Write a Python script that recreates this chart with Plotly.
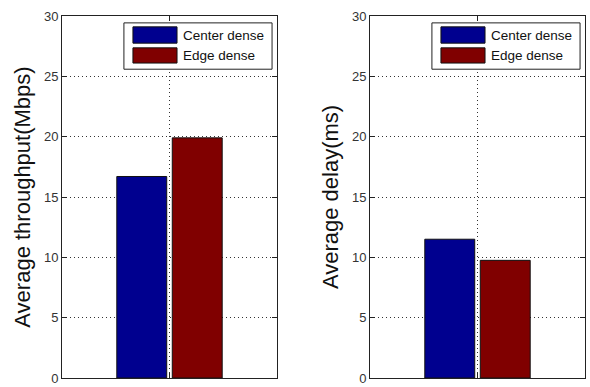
import plotly.graph_objects as go

# ---- data ----
groups = ["Center dense", "Edge dense"]
throughput = [16.7, 19.9]   # Mbps
delay = [11.5, 9.75]        # ms
y_ticks = [0, 5, 10, 15, 20, 25, 30]
colors = ["#00008F", "#800000"]
y_titles = ["Average throughput(Mbps)", "Average delay(ms)"]

FONT = "Liberation Sans, Arial, Helvetica, sans-serif"

fig = go.Figure()
panels = [(throughput, "x", "y"), (delay, "x2", "y2")]
for vals, xa, ya in panels:
    for name, v, c in zip(groups, vals, colors):
        fig.add_trace(go.Bar(
            x=[1], y=[v], name=name, xaxis=xa, yaxis=ya,
            marker=dict(color=c, line=dict(color="#111", width=1)),
            showlegend=False,
        ))

x_domains = [[62 / 590, 277 / 590], [370 / 590, 585 / 590]]
y_domain = [1 - 378 / 387, 1 - 16 / 387]

common_x = dict(range=[0.5, 1.5], tickvals=[1], ticktext=[""], ticks="inside",
                ticklen=5, tickcolor="#222", showline=True, linecolor="#222",
                linewidth=1, mirror="ticks", showgrid=True, griddash="1px,3px",
                gridcolor="#333", gridwidth=1, zeroline=False, fixedrange=True,
                automargin=False)
common_y = dict(range=[0, 30], tickvals=y_ticks, ticks="inside", ticklen=5,
                tickcolor="#222", showline=True, linecolor="#222", linewidth=1,
                mirror="ticks", showgrid=True, griddash="1px,3px", gridcolor="#333",
                gridwidth=1, zeroline=False, automargin=False,
                ticklabeloverflow="allow",
                tickfont=dict(family=FONT, size=13, color="#333"),
                title_font=dict(family=FONT, size=22, color="#111"),
                title_standoff=7)

fig.update_layout(
    template="none",
    width=590, height=387,
    margin=dict(l=0, r=0, t=0, b=0, autoexpand=False),
    paper_bgcolor="white", plot_bgcolor="white",
    barmode="group", bargap=0.484, bargroupgap=0.1,
    xaxis=dict(domain=x_domains[0], anchor="y", **common_x),
    yaxis=dict(domain=y_domain, anchor="x", title_text=y_titles[0], **common_y),
    xaxis2=dict(domain=x_domains[1], anchor="y2", **common_x),
    yaxis2=dict(domain=y_domain, anchor="x2", title_text=y_titles[1], **common_y),
    font=dict(family=FONT),
)

# ---- Matlab-style legends drawn inside each axis ----
for xa, ya in [("x", "y"), ("x2", "y2")]:
    xr, yr = f"{xa} domain", f"{ya} domain"
    fig.add_shape(type="rect", xref=xr, yref=yr, x0=0.288, x1=0.977, y0=0.853, y1=0.981,
                  fillcolor="white", line=dict(color="#222", width=1), layer="above")
    sw = [(0.925, 0.970), (0.870, 0.912)]
    for (y0, y1), c, name in zip(sw, colors, groups):
        fig.add_shape(type="rect", xref=xr, yref=yr, x0=0.330, x1=0.535, y0=y0, y1=y1,
                      fillcolor=c, line=dict(color="#111", width=1), layer="above")
        fig.add_annotation(xref=xr, yref=yr, x=0.553, y=(y0 + y1) / 2, text=name,
                           showarrow=False, xanchor="left", yanchor="middle",
                           font=dict(family=FONT, size=13.5, color="#111"))

fig.write_html("out.html",
               config={"displayModeBar": False},
               post_script="document.body.style.margin='0';document.body.style.overflow='hidden';")
